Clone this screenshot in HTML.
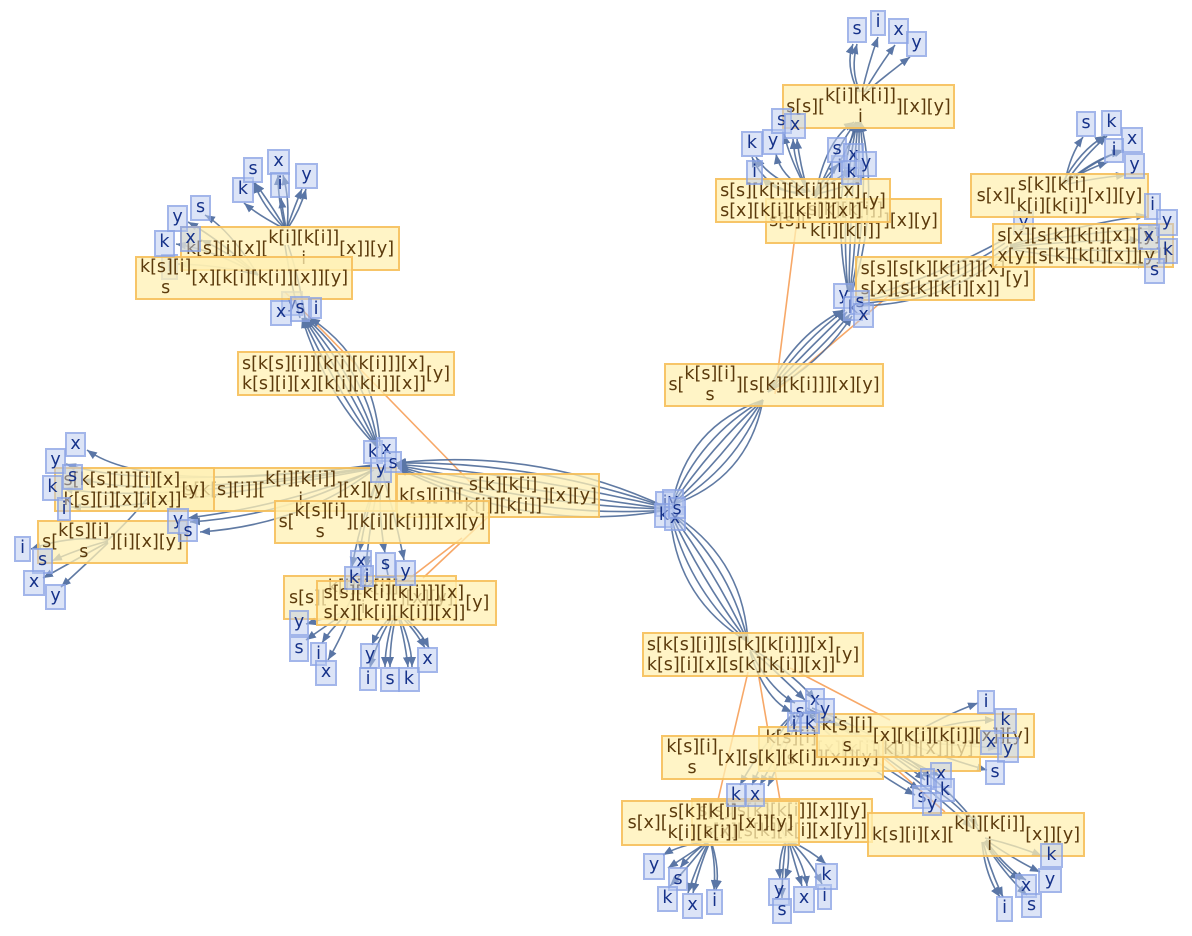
<!DOCTYPE html>
<html><head><meta charset="utf-8">
<style>
html,body{margin:0;padding:0;background:#fff;}
#w{position:relative;width:1192px;height:936px;overflow:hidden;background:#fff;}
svg{position:absolute;left:0;top:0;}
.b{position:absolute;box-sizing:border-box;background:rgba(255,240,179,0.75);border:2px solid rgba(245,185,80,0.8);color:#5b3a0c;font-family:"DejaVu Sans","Liberation Sans",sans-serif;font-size:17.5px;display:flex;align-items:center;justify-content:center;white-space:nowrap;line-height:20px;}
.st{display:flex;flex-direction:column;align-items:center;line-height:21px;}
.c2{display:flex;flex-direction:column;line-height:20px;}
.c2r{display:flex;flex-direction:column;align-items:flex-end;line-height:20px;}
.l{position:absolute;box-sizing:border-box;background:rgba(185,202,240,0.5);border:2px solid rgba(125,152,225,0.6);color:#16328a;font-family:"DejaVu Sans","Liberation Sans",sans-serif;font-size:17.5px;text-align:center;line-height:20px;}
</style></head><body><div id="w">
<svg width="1192" height="936" viewBox="0 0 1192 936">
<defs><marker id="a" viewBox="0 0 10 8" refX="10" refY="4" markerWidth="10" markerHeight="8" orient="auto" markerUnits="userSpaceOnUse"><path d="M0,0L10,4L0,8z" fill="#5a76a6"/></marker></defs>
<g fill="none" stroke="#f7a868" stroke-width="1.6">
<path d="M775,394L798,212"/><path d="M775,392L905,282"/>
<path d="M285,292L470,482"/>
<path d="M490,515L423,578"/><path d="M462,538L392,592"/>
<path d="M748,672L718,800"/><path d="M758,672L780,800"/><path d="M790,668L890,720"/><path d="M880,755L945,812"/>
</g>
<g fill="none" stroke="#4a6896" stroke-width="1.6" stroke-opacity="0.88">
<path marker-end="url(#a)" d="M668,508 Q538,447 396,463"/>
<path marker-end="url(#a)" d="M668,508 Q536,461 396,463"/>
<path marker-end="url(#a)" d="M668,508 Q534,476 396,464"/>
<path marker-end="url(#a)" d="M668,509 Q531,491 396,465"/>
<path marker-end="url(#a)" d="M668,509 Q529,506 397,466"/>
<path marker-end="url(#a)" d="M668,510 Q526,520 398,467"/>
<path marker-end="url(#a)" d="M668,510 Q532,535 398,468"/>
<path d="M672,505 Q687,426 763,400"/>
<path d="M672,505 Q699,437 763,400"/>
<path d="M672,505 Q711,447 763,400"/>
<path d="M672,505 Q723,458 763,400"/>
<path d="M672,505 Q736,468 763,400"/>
<path d="M672,505 Q748,479 763,400"/>
<path marker-end="url(#a)" d="M768,392 Q791,338 843,310"/>
<path marker-end="url(#a)" d="M768,392 Q799,344 845,310"/>
<path marker-end="url(#a)" d="M768,392 Q806,351 847,312"/>
<path marker-end="url(#a)" d="M768,392 Q814,358 850,314"/>
<path marker-end="url(#a)" d="M768,392 Q821,364 852,316"/>
<path marker-end="url(#a)" d="M848,292 Q830,206 856,122"/>
<path marker-end="url(#a)" d="M848,292 Q840,206 857,122"/>
<path marker-end="url(#a)" d="M849,292 Q850,206 858,122"/>
<path marker-end="url(#a)" d="M850,292 Q860,206 859,122"/>
<path marker-end="url(#a)" d="M851,292 Q870,206 860,122"/>
<path marker-end="url(#a)" d="M852,292 Q880,206 861,122"/>
<path marker-end="url(#a)" d="M860,92 Q850,70 857,44"/>
<path marker-end="url(#a)" d="M858,92 Q845,65 853,44"/>
<path marker-end="url(#a)" d="M862,92 Q868,65 878,37"/>
<path marker-end="url(#a)" d="M864,92 Q880,65 895,45"/>
<path marker-end="url(#a)" d="M866,92 Q890,72 910,57"/>
<path marker-end="url(#a)" d="M808,192 Q770,180 756,157"/>
<path marker-end="url(#a)" d="M805,195 Q765,190 752,157"/>
<path marker-end="url(#a)" d="M808,192 Q780,175 776,154"/>
<path marker-end="url(#a)" d="M808,192 Q790,160 784,134"/>
<path marker-end="url(#a)" d="M808,192 Q800,165 797,139"/>
<path marker-end="url(#a)" d="M810,192 Q795,170 793,139"/>
<path marker-end="url(#a)" d="M808,192 Q780,195 762,178"/>
<path marker-end="url(#a)" d="M815,198 Q835,150 856,122"/>
<path marker-end="url(#a)" d="M815,198 Q845,160 858,122"/>
<path marker-end="url(#a)" d="M815,198 Q825,140 854,122"/>
<path marker-end="url(#a)" d="M812,195 Q828,175 838,164"/>
<path marker-end="url(#a)" d="M812,195 Q835,180 852,169"/>
<path marker-end="url(#a)" d="M812,195 Q845,188 864,177"/>
<path d="M855,300 Q930,280 1003,240"/>
<path d="M855,302 Q935,290 1005,243"/>
<path d="M857,304 Q940,298 1008,246"/>
<path d="M857,306 Q945,305 1010,250"/>
<path marker-end="url(#a)" d="M1065,182 Q1070,155 1083,137"/>
<path marker-end="url(#a)" d="M1066,182 Q1085,155 1107,136"/>
<path marker-end="url(#a)" d="M1062,184 Q1080,150 1105,136"/>
<path marker-end="url(#a)" d="M1068,182 Q1095,160 1124,150"/>
<path marker-end="url(#a)" d="M1064,184 Q1100,155 1122,152"/>
<path marker-end="url(#a)" d="M1066,182 Q1085,170 1108,162"/>
<path marker-end="url(#a)" d="M1068,184 Q1095,178 1126,175"/>
<path marker-end="url(#a)" d="M1010,245 Q1080,225 1146,215"/>
<path marker-end="url(#a)" d="M1010,246 Q1085,232 1158,228"/>
<path marker-end="url(#a)" d="M1010,247 Q1080,240 1140,240"/>
<path marker-end="url(#a)" d="M1010,248 Q1090,250 1160,252"/>
<path marker-end="url(#a)" d="M1010,249 Q1085,262 1148,265"/>
<path marker-end="url(#a)" d="M378,448 Q327,397 302,318"/>
<path marker-end="url(#a)" d="M378,448 Q337,391 303,318"/>
<path marker-end="url(#a)" d="M378,448 Q348,385 304,318"/>
<path marker-end="url(#a)" d="M378,448 Q358,380 305,318"/>
<path marker-end="url(#a)" d="M378,448 Q369,374 306,318"/>
<path marker-end="url(#a)" d="M380,446 Q375,360 310,318"/>
<path d="M300,318 Q290,280 285,245"/>
<path d="M305,318 Q300,280 288,245"/>
<path marker-end="url(#a)" d="M283,228 Q258,215 244,203"/>
<path marker-end="url(#a)" d="M284,228 Q262,205 254,183"/>
<path marker-end="url(#a)" d="M285,228 Q268,200 255,183"/>
<path marker-end="url(#a)" d="M285,228 Q278,200 278,175"/>
<path marker-end="url(#a)" d="M287,228 Q290,200 283,175"/>
<path marker-end="url(#a)" d="M286,228 Q283,212 281,198"/>
<path marker-end="url(#a)" d="M288,228 Q300,210 306,189"/>
<path marker-end="url(#a)" d="M287,228 Q295,205 302,189"/>
<path marker-end="url(#a)" d="M258,275 Q220,240 188,222"/>
<path marker-end="url(#a)" d="M258,275 Q230,230 205,215"/>
<path marker-end="url(#a)" d="M258,275 Q215,250 176,244"/>
<path marker-end="url(#a)" d="M258,275 Q225,250 201,240"/>
<path marker-end="url(#a)" d="M258,275 Q220,265 178,264"/>
<path marker-end="url(#a)" d="M372,465 Q150,495 87,450"/>
<path marker-end="url(#a)" d="M372,466 Q140,490 66,464"/>
<path marker-end="url(#a)" d="M372,467 Q150,500 83,479"/>
<path marker-end="url(#a)" d="M372,468 Q140,505 63,488"/>
<path marker-end="url(#a)" d="M372,469 Q150,510 71,507"/>
<path marker-end="url(#a)" d="M372,470 Q290,515 190,522"/>
<path marker-end="url(#a)" d="M372,471 Q300,525 200,532"/>
<path marker-end="url(#a)" d="M374,470 Q290,505 188,518"/>
<path marker-end="url(#a)" d="M108,540 Q70,535 31,549"/>
<path marker-end="url(#a)" d="M108,541 Q75,550 52,561"/>
<path marker-end="url(#a)" d="M108,542 Q75,560 43,578"/>
<path marker-end="url(#a)" d="M108,543 Q85,565 61,587"/>
<path d="M150,495 Q130,520 108,540"/>
<path marker-end="url(#a)" d="M380,472 Q365,515 360,551"/>
<path marker-end="url(#a)" d="M381,472 Q378,515 385,553"/>
<path marker-end="url(#a)" d="M382,472 Q395,515 404,560"/>
<path marker-end="url(#a)" d="M380,472 Q360,520 352,567"/>
<path marker-end="url(#a)" d="M381,472 Q370,520 366,566"/>
<path d="M385,560 Q390,585 395,612"/>
<path d="M370,560 Q355,590 345,612"/>
<path marker-end="url(#a)" d="M345,612 Q320,620 306,624"/>
<path marker-end="url(#a)" d="M345,613 Q320,630 306,640"/>
<path marker-end="url(#a)" d="M347,614 Q330,630 322,643"/>
<path marker-end="url(#a)" d="M350,615 Q340,640 328,660"/>
<path marker-end="url(#a)" d="M392,615 Q378,630 372,645"/>
<path marker-end="url(#a)" d="M393,615 Q375,645 370,668"/>
<path marker-end="url(#a)" d="M396,616 Q390,640 390,667"/>
<path marker-end="url(#a)" d="M394,615 Q385,645 385,667"/>
<path marker-end="url(#a)" d="M398,616 Q405,640 408,667"/>
<path marker-end="url(#a)" d="M399,616 Q412,645 412,667"/>
<path marker-end="url(#a)" d="M400,615 Q415,630 425,648"/>
<path marker-end="url(#a)" d="M402,615 Q420,630 429,648"/>
<path d="M670,512 Q675,598 748,642"/>
<path d="M670,512 Q688,589 748,642"/>
<path d="M670,512 Q702,581 748,642"/>
<path d="M670,512 Q716,573 748,642"/>
<path d="M670,512 Q730,565 748,642"/>
<path d="M670,512 Q743,557 748,642"/>
<path marker-end="url(#a)" d="M750,650 Q770,690 795,703"/>
<path marker-end="url(#a)" d="M752,650 Q785,680 805,700"/>
<path marker-end="url(#a)" d="M754,650 Q795,675 815,700"/>
<path marker-end="url(#a)" d="M750,652 Q765,700 792,712"/>
<path marker-end="url(#a)" d="M803,712 Q870,735 925,780"/>
<path marker-end="url(#a)" d="M805,710 Q875,740 932,778"/>
<path marker-end="url(#a)" d="M807,708 Q880,745 940,776"/>
<path marker-end="url(#a)" d="M805,712 Q865,755 920,790"/>
<path marker-end="url(#a)" d="M807,714 Q860,765 915,795"/>
<path marker-end="url(#a)" d="M810,710 Q900,760 972,828"/>
<path marker-end="url(#a)" d="M812,708 Q920,750 978,826"/>
<path d="M935,790 Q960,805 980,832"/>
<path marker-end="url(#a)" d="M795,712 Q770,745 752,785"/>
<path marker-end="url(#a)" d="M798,712 Q780,750 760,785"/>
<path marker-end="url(#a)" d="M800,714 Q785,750 768,786"/>
<path marker-end="url(#a)" d="M793,714 Q765,740 740,785"/>
<path d="M750,800 Q725,815 708,838"/>
<path d="M760,800 Q775,815 786,838"/>
<path marker-end="url(#a)" d="M705,842 Q680,845 663,855"/>
<path marker-end="url(#a)" d="M706,843 Q680,860 668,868"/>
<path marker-end="url(#a)" d="M706,843 Q690,855 680,868"/>
<path marker-end="url(#a)" d="M707,843 Q690,865 670,886"/>
<path marker-end="url(#a)" d="M709,844 Q700,865 693,893"/>
<path marker-end="url(#a)" d="M708,843 Q695,870 688,893"/>
<path marker-end="url(#a)" d="M711,844 Q716,865 714,890"/>
<path marker-end="url(#a)" d="M712,844 Q720,870 716,890"/>
<path marker-end="url(#a)" d="M785,842 Q778,860 780,879"/>
<path marker-end="url(#a)" d="M788,842 Q790,865 785,879"/>
<path marker-end="url(#a)" d="M786,842 Q782,870 782,898"/>
<path marker-end="url(#a)" d="M789,842 Q795,865 802,886"/>
<path marker-end="url(#a)" d="M790,842 Q805,868 807,886"/>
<path marker-end="url(#a)" d="M791,842 Q810,860 822,884"/>
<path marker-end="url(#a)" d="M792,842 Q810,850 826,864"/>
<path marker-end="url(#a)" d="M985,838 Q1015,845 1042,856"/>
<path marker-end="url(#a)" d="M986,840 Q1015,860 1040,872"/>
<path marker-end="url(#a)" d="M985,841 Q1000,865 1020,880"/>
<path marker-end="url(#a)" d="M986,841 Q1008,870 1026,880"/>
<path marker-end="url(#a)" d="M984,842 Q1005,875 1027,895"/>
<path marker-end="url(#a)" d="M983,842 Q990,870 1003,897"/>
<path marker-end="url(#a)" d="M982,842 Q985,875 1000,897"/>
<path marker-end="url(#a)" d="M905,738 Q945,715 978,703"/>
<path marker-end="url(#a)" d="M905,739 Q950,720 995,720"/>
<path marker-end="url(#a)" d="M906,740 Q945,740 982,743"/>
<path marker-end="url(#a)" d="M906,741 Q950,745 998,748"/>
<path marker-end="url(#a)" d="M905,742 Q950,760 987,770"/>
</g>
</svg>

<div class="l" style="left:161px;top:254px;width:17px;height:26px">i</div>
<div class="l" style="left:281px;top:291px;width:22px;height:25px">y</div>
<div class="l" style="left:1013px;top:210px;width:21px;height:25px">y</div>
<div class="l" style="left:831px;top:155px;width:17px;height:25px">i</div>

<div class="b" style="left:664px;top:363px;width:220px;height:44px">s[<span class="st"><span>k[s][i]</span><span>s</span></span>][s[k][k[i]]][x][y]</div>
<div class="b" style="left:855px;top:256px;width:180px;height:45px"><span class="c2"><span>s[s][s[k][k[i]]][x]</span><span>s[x][s[k][k[i][x]]</span></span>[y]</div>
<div class="b" style="left:992px;top:223px;width:182px;height:45px"><span class="c2"><span>s[x][s[k][k[i][x]][y]</span><span>x[y][s[k][k[i][x]][y]]</span></span></div>
<div class="b" style="left:765px;top:198px;width:177px;height:46px">s[s][<span class="st"><span>s[k][k[i]]</span><span>k[i][k[i]]</span></span>][x][y]</div>
<div class="b" style="left:715px;top:178px;width:176px;height:45px"><span class="c2"><span>s[s][k[i][k[i]]][x]</span><span>s[x][k[i][k[i]][x]]</span></span>[y]</div>
<div class="b" style="left:782px;top:84px;width:173px;height:45px">s[s][<span class="st"><span>k[i][k[i]]</span><span>i</span></span>][x][y]</div>
<div class="b" style="left:970px;top:173px;width:179px;height:45px">s[x][<span class="st"><span>s[k][k[i]</span><span>k[i][k[i]]</span></span>[x]][y]</div>

<div class="b" style="left:237px;top:351px;width:218px;height:45px"><span class="c2"><span>s[k[s][i]][k[i][k[i]]][x]</span><span>k[s][i][x][k[i][k[i]][x]]</span></span>[y]</div>
<div class="b" style="left:180px;top:226px;width:220px;height:45px">k[s][i][x][<span class="st"><span>k[i][k[i]]</span><span>i</span></span>[x]][y]</div>
<div class="b" style="left:135px;top:256px;width:218px;height:44px"><span class="st"><span>k[s][i]</span><span>s</span></span>[x][k[i][k[i]][x]][y]</div>

<div class="b" style="left:150px;top:467px;width:247px;height:45px;justify-content:flex-end;padding-right:4px">s[k[s][i]][<span class="st"><span>k[i][k[i]]</span><span>i</span></span>][x][y]</div>
<div class="b" style="left:54px;top:467px;width:161px;height:45px"><span class="c2"><span>s[k[s][i]][i][x]</span><span>k[s][i][x][i[x]]</span></span>[y]</div>
<div class="b" style="left:396px;top:473px;width:204px;height:45px">k[s][i]][<span class="st"><span>s[k][k[i]</span><span>k[i]][k[i]]</span></span>][x][y]</div>
<div class="b" style="left:274px;top:500px;width:216px;height:44px">s[<span class="st"><span>k[s][i]</span><span>s</span></span>][k[i][k[i]]][x][y]</div>
<div class="b" style="left:37px;top:520px;width:151px;height:44px">s[<span class="st"><span>k[s][i]</span><span>s</span></span>][i][x][y]</div>
<div class="b" style="left:283px;top:575px;width:174px;height:45px;justify-content:flex-start;padding-left:4px">s[s][<span class="st"><span>k[i][k[i]]</span><span>i</span></span>][x][y]</div>
<div class="b" style="left:316px;top:580px;width:181px;height:46px"><span class="c2"><span>s[s][k[i][k[i]]][x]</span><span>s[x][k[i][k[i]][x]]</span></span>[y]</div>

<div class="b" style="left:642px;top:632px;width:222px;height:45px"><span class="c2"><span>s[k[s][i]][s[k][k[i]]][x]</span><span>k[s][i][x][s[k][k[i]][x]]</span></span>[y]</div>
<div class="b" style="left:758px;top:726px;width:223px;height:46px"><span class="st"><span>k[s][i]</span><span>s</span></span>[x][k[i][k[i]][x]][y]</div>
<div class="b" style="left:661px;top:735px;width:223px;height:45px"><span class="st"><span>k[s][i]</span><span>s</span></span>[x][s[k][k[i]][x]][y]</div>
<div class="b" style="left:816px;top:713px;width:219px;height:45px"><span class="st"><span>k[s][i]</span><span>s</span></span>[x][k[i][k[i]][x]][y]</div>
<div class="b" style="left:691px;top:798px;width:182px;height:45px;justify-content:flex-end;padding-right:4px"><span class="c2r"><span>s[s][s[k][k[i]][x]][y]</span><span>s[x][s[k][k[i][x][y]]</span></span></div>
<div class="b" style="left:621px;top:800px;width:179px;height:46px">s[x][<span class="st"><span>s[k][k[i]</span><span>k[i][k[i]]</span></span>[x]][y]</div>
<div class="b" style="left:867px;top:812px;width:218px;height:45px">k[s][i][x][<span class="st"><span>k[i][k[i]]</span><span>i</span></span>[x]][y]</div>

<div class="l" style="left:847px;top:17px;width:20px;height:26px">s</div>
<div class="l" style="left:870px;top:10px;width:16px;height:26px">i</div>
<div class="l" style="left:888px;top:18px;width:21px;height:26px">x</div>
<div class="l" style="left:906px;top:31px;width:21px;height:26px">y</div>
<div class="l" style="left:741px;top:131px;width:22px;height:26px">k</div>
<div class="l" style="left:762px;top:129px;width:22px;height:26px">y</div>
<div class="l" style="left:771px;top:108px;width:21px;height:26px">s</div>
<div class="l" style="left:784px;top:113px;width:22px;height:26px">x</div>
<div class="l" style="left:746px;top:160px;width:17px;height:25px">i</div>
<div class="l" style="left:827px;top:137px;width:20px;height:26px">s</div>
<div class="l" style="left:843px;top:143px;width:21px;height:26px">x</div>
<div class="l" style="left:841px;top:160px;width:21px;height:25px">k</div>
<div class="l" style="left:855px;top:151px;width:22px;height:26px">y</div>
<div class="l" style="left:833px;top:283px;width:21px;height:26px">y</div>
<div class="l" style="left:843px;top:296px;width:20px;height:25px">k</div>
<div class="l" style="left:850px;top:290px;width:20px;height:25px">s</div>
<div class="l" style="left:853px;top:303px;width:21px;height:25px">x</div>
<div class="l" style="left:1076px;top:111px;width:20px;height:26px">s</div>
<div class="l" style="left:1101px;top:110px;width:21px;height:26px">k</div>
<div class="l" style="left:1121px;top:127px;width:22px;height:26px">x</div>
<div class="l" style="left:1104px;top:138px;width:20px;height:25px">i</div>
<div class="l" style="left:1124px;top:153px;width:21px;height:26px">y</div>
<div class="l" style="left:1144px;top:193px;width:17px;height:27px">i</div>
<div class="l" style="left:1156px;top:209px;width:22px;height:27px">y</div>
<div class="l" style="left:1138px;top:224px;width:22px;height:26px">x</div>
<div class="l" style="left:1158px;top:238px;width:20px;height:26px">k</div>
<div class="l" style="left:1144px;top:258px;width:21px;height:26px">s</div>

<div class="l" style="left:232px;top:177px;width:22px;height:26px">k</div>
<div class="l" style="left:243px;top:157px;width:20px;height:26px">s</div>
<div class="l" style="left:267px;top:149px;width:23px;height:26px">x</div>
<div class="l" style="left:270px;top:172px;width:20px;height:26px">i</div>
<div class="l" style="left:295px;top:163px;width:23px;height:26px">y</div>
<div class="l" style="left:167px;top:205px;width:21px;height:27px">y</div>
<div class="l" style="left:190px;top:195px;width:21px;height:26px">s</div>
<div class="l" style="left:154px;top:230px;width:21px;height:27px">k</div>
<div class="l" style="left:180px;top:226px;width:21px;height:26px">x</div>
<div class="l" style="left:270px;top:300px;width:22px;height:26px">x</div>
<div class="l" style="left:290px;top:296px;width:20px;height:26px">s</div>
<div class="l" style="left:310px;top:297px;width:12px;height:22px">i</div>
<div class="l" style="left:363px;top:440px;width:20px;height:24px">k</div>
<div class="l" style="left:376px;top:437px;width:21px;height:25px">x</div>
<div class="l" style="left:370px;top:457px;width:22px;height:26px">y</div>
<div class="l" style="left:384px;top:451px;width:18px;height:22px">s</div>

<div class="l" style="left:65px;top:432px;width:21px;height:25px">x</div>
<div class="l" style="left:45px;top:448px;width:21px;height:26px">y</div>
<div class="l" style="left:62px;top:464px;width:21px;height:26px">s</div>
<div class="l" style="left:42px;top:475px;width:21px;height:26px">k</div>
<div class="l" style="left:57px;top:497px;width:14px;height:24px">i</div>
<div class="l" style="left:167px;top:508px;width:22px;height:26px">y</div>
<div class="l" style="left:178px;top:519px;width:20px;height:23px">s</div>
<div class="l" style="left:14px;top:536px;width:17px;height:26px">i</div>
<div class="l" style="left:32px;top:548px;width:21px;height:26px">s</div>
<div class="l" style="left:23px;top:570px;width:22px;height:26px">x</div>
<div class="l" style="left:45px;top:584px;width:21px;height:26px">y</div>

<div class="l" style="left:350px;top:550px;width:22px;height:26px">x</div>
<div class="l" style="left:375px;top:552px;width:21px;height:26px">s</div>
<div class="l" style="left:395px;top:560px;width:21px;height:26px">y</div>
<div class="l" style="left:344px;top:566px;width:20px;height:24px">k</div>
<div class="l" style="left:360px;top:565px;width:14px;height:22px">i</div>
<div class="l" style="left:289px;top:610px;width:20px;height:26px">y</div>
<div class="l" style="left:289px;top:636px;width:20px;height:26px">s</div>
<div class="l" style="left:310px;top:642px;width:17px;height:24px">i</div>
<div class="l" style="left:315px;top:660px;width:22px;height:26px">x</div>
<div class="l" style="left:360px;top:643px;width:20px;height:26px">y</div>
<div class="l" style="left:359px;top:667px;width:18px;height:24px">i</div>
<div class="l" style="left:380px;top:667px;width:20px;height:25px">s</div>
<div class="l" style="left:398px;top:667px;width:22px;height:25px">k</div>
<div class="l" style="left:417px;top:647px;width:21px;height:26px">x</div>

<div class="l" style="left:655px;top:491px;width:20px;height:26px">i</div>
<div class="l" style="left:662px;top:489px;width:22px;height:26px">y</div>
<div class="l" style="left:654px;top:503px;width:20px;height:25px">k</div>
<div class="l" style="left:664px;top:506px;width:22px;height:25px">x</div>
<div class="l" style="left:668px;top:497px;width:18px;height:22px">s</div>

<div class="l" style="left:790px;top:700px;width:20px;height:24px">s</div>
<div class="l" style="left:805px;top:688px;width:20px;height:25px">x</div>
<div class="l" style="left:815px;top:698px;width:20px;height:25px">y</div>
<div class="l" style="left:787px;top:712px;width:14px;height:20px">i</div>
<div class="l" style="left:800px;top:712px;width:20px;height:22px">k</div>
<div class="l" style="left:977px;top:690px;width:18px;height:24px">i</div>
<div class="l" style="left:994px;top:708px;width:23px;height:26px">k</div>
<div class="l" style="left:980px;top:730px;width:22px;height:25px">x</div>
<div class="l" style="left:997px;top:737px;width:22px;height:26px">y</div>
<div class="l" style="left:985px;top:760px;width:20px;height:25px">s</div>
<div class="l" style="left:930px;top:762px;width:22px;height:26px">x</div>
<div class="l" style="left:920px;top:768px;width:15px;height:22px">i</div>
<div class="l" style="left:935px;top:778px;width:20px;height:24px">k</div>
<div class="l" style="left:912px;top:785px;width:20px;height:24px">s</div>
<div class="l" style="left:922px;top:792px;width:20px;height:24px">y</div>
<div class="l" style="left:726px;top:783px;width:20px;height:24px">k</div>
<div class="l" style="left:745px;top:783px;width:20px;height:24px">x</div>
<div class="l" style="left:643px;top:853px;width:22px;height:27px">y</div>
<div class="l" style="left:668px;top:867px;width:20px;height:24px">s</div>
<div class="l" style="left:657px;top:886px;width:21px;height:26px">k</div>
<div class="l" style="left:682px;top:893px;width:21px;height:26px">x</div>
<div class="l" style="left:706px;top:889px;width:17px;height:26px">i</div>
<div class="l" style="left:768px;top:878px;width:22px;height:28px">y</div>
<div class="l" style="left:772px;top:898px;width:20px;height:26px">s</div>
<div class="l" style="left:793px;top:886px;width:22px;height:27px">x</div>
<div class="l" style="left:817px;top:884px;width:15px;height:26px">i</div>
<div class="l" style="left:815px;top:863px;width:23px;height:27px">k</div>
<div class="l" style="left:1040px;top:843px;width:23px;height:25px">k</div>
<div class="l" style="left:1038px;top:868px;width:24px;height:25px">y</div>
<div class="l" style="left:1015px;top:874px;width:22px;height:24px">x</div>
<div class="l" style="left:1021px;top:893px;width:21px;height:25px">s</div>
<div class="l" style="left:996px;top:896px;width:17px;height:26px">i</div>
</div></body></html>
